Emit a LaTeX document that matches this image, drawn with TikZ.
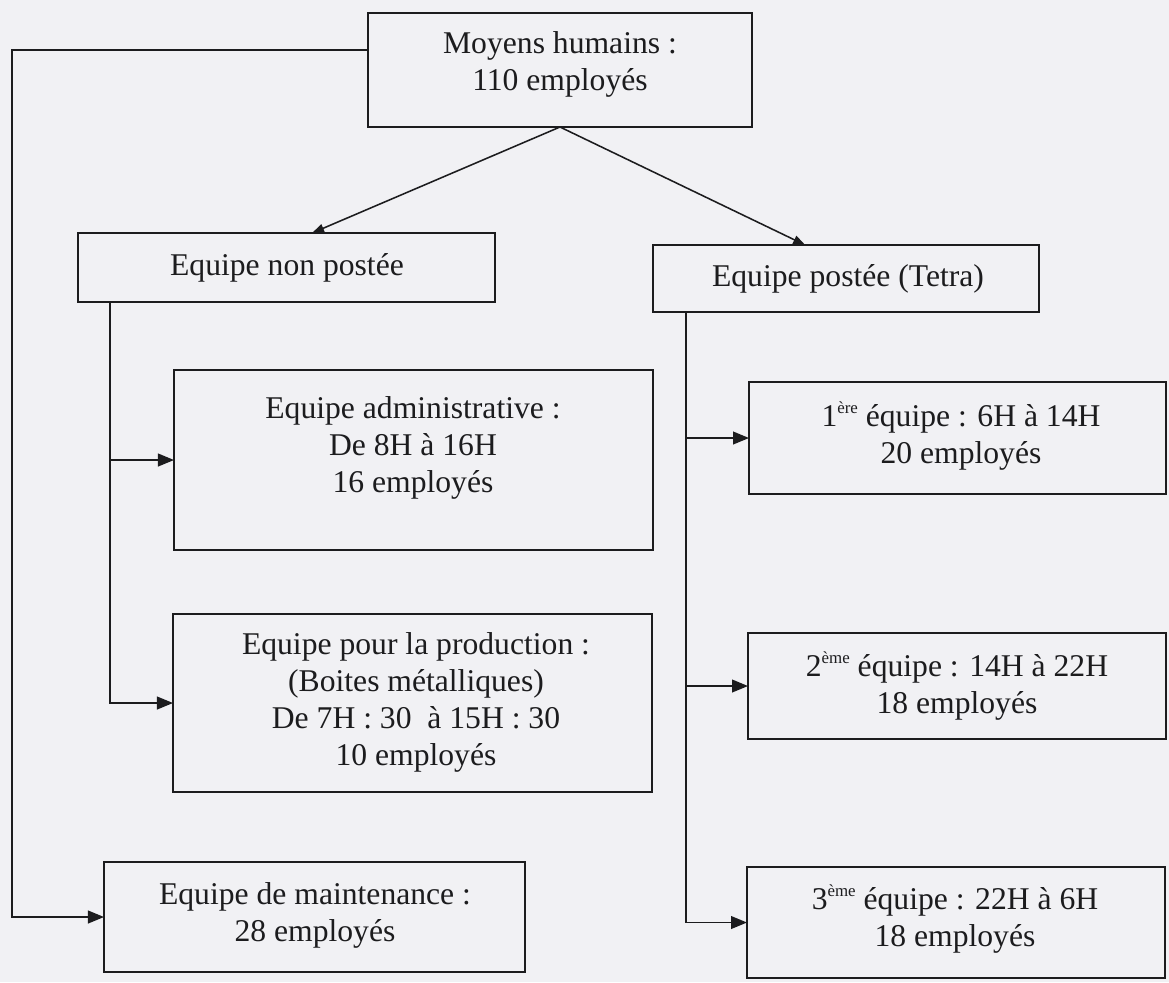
\documentclass[tikz,border=0pt]{standalone}
\usepackage{fontspec}
\setmainfont{Liberation Serif}
\usetikzlibrary{arrows.meta}
\definecolor{paper}{RGB}{241,241,244}
\definecolor{ink}{RGB}{28,28,30}
% small raised ordinal suffix
\newcommand{\ordsuf}[1]{\raisebox{0.9ex}{\fontsize{12}{12}\selectfont #1}}
\begin{document}
\begin{tikzpicture}[x=0.025cm, y=-0.025cm,
  box/.style 2 args={draw=ink, line width=1.1pt, inner sep=0pt, outer sep=0pt,
    minimum width=#1*0.025cm, minimum height=#2*0.025cm},
  txt/.style={font=\fontsize{22.5}{26.3}\selectfont, align=center, text=ink, inner sep=0pt},
  conn/.style={draw=ink, line width=1.1pt},
  arr/.style={conn, -{Triangle[length=0.4cm, width=0.32cm]}},
  darr/.style={conn, -{Triangle[length=0.3cm, width=0.22cm]}}]

% page
\fill[paper] (0,0) rectangle (1169,982);
\useasboundingbox (0,0) rectangle (1169,982);

% frames
\node[box={384}{114}] (top)   at (560,70)    {};
\node[box={417}{69}]  (np)    at (286.5,267.5) {};
\node[box={386}{67}]  (ps)    at (846,278.5) {};
\node[box={479}{180}] (admin) at (413.5,460) {};
\node[box={479}{178}] (prod)  at (412.5,703) {};
\node[box={421}{110}] (maint) at (314.5,917) {};
\node[box={417}{112}] (e1)    at (957.5,438) {};
\node[box={418}{106}] (e2)    at (957,686)   {};
\node[box={418}{111}] (e3)    at (956,922.5) {};

% labels
\node[txt] (toptxt)   at (560,64)  {Moyens humains :\\110 employés};
\node[txt] (nptxt)    at (287,268) {Equipe non postée};
\node[txt] (pstxt)    at (848,279) {Equipe postée (Tetra)};
\node[txt] (admintxt) at (413,448) {Equipe administrative :\\De 8H à 16H\\16 employés};
\node[txt] (prodtxt)  at (416,702) {Equipe pour la production :\\(Boites métalliques)\\De 7H : 30\ \ à 15H : 30\\10 employés};
\node[txt] (mainttxt) at (315,915) {Equipe de maintenance :\\28 employés};
\node[txt] (e1txt)    at (961,436) {1\ordsuf{ère} équipe : 6H à 14H\\20 employés};
\node[txt] (e2txt)    at (957,686) {2\ordsuf{ème} équipe : 14H à 22H\\18 employés};
\node[txt] (e3txt)    at (955,919) {3\ordsuf{ème} équipe : 22H à 6H\\18 employés};

% split into the two teams
\draw[darr] (top.south) -- ([xshift=0.64cm]np.north);
\draw[darr] (top.south) -- ([xshift=-1.02cm]ps.north);

% maintenance branch along the left edge
\coordinate (lcorner) at (12,50);
\draw[arr] ([yshift=0.5cm]top.west) -- (lcorner) |- (maint.west);

% non-shift trunk
\coordinate (ltx) at (110,0);
\draw[arr] (np.south -| ltx) |- (prod.west);
\draw[arr] (ltx |- admin.west) -- (admin.west);

% shift trunk
\coordinate (rtx) at (686,0);
\draw[arr] (ps.south -| rtx) |- (e3.west);
\draw[arr] (rtx |- e1.west) -- (e1.west);
\draw[arr] (rtx |- e2.west) -- (e2.west);

\end{tikzpicture}
\end{document}
